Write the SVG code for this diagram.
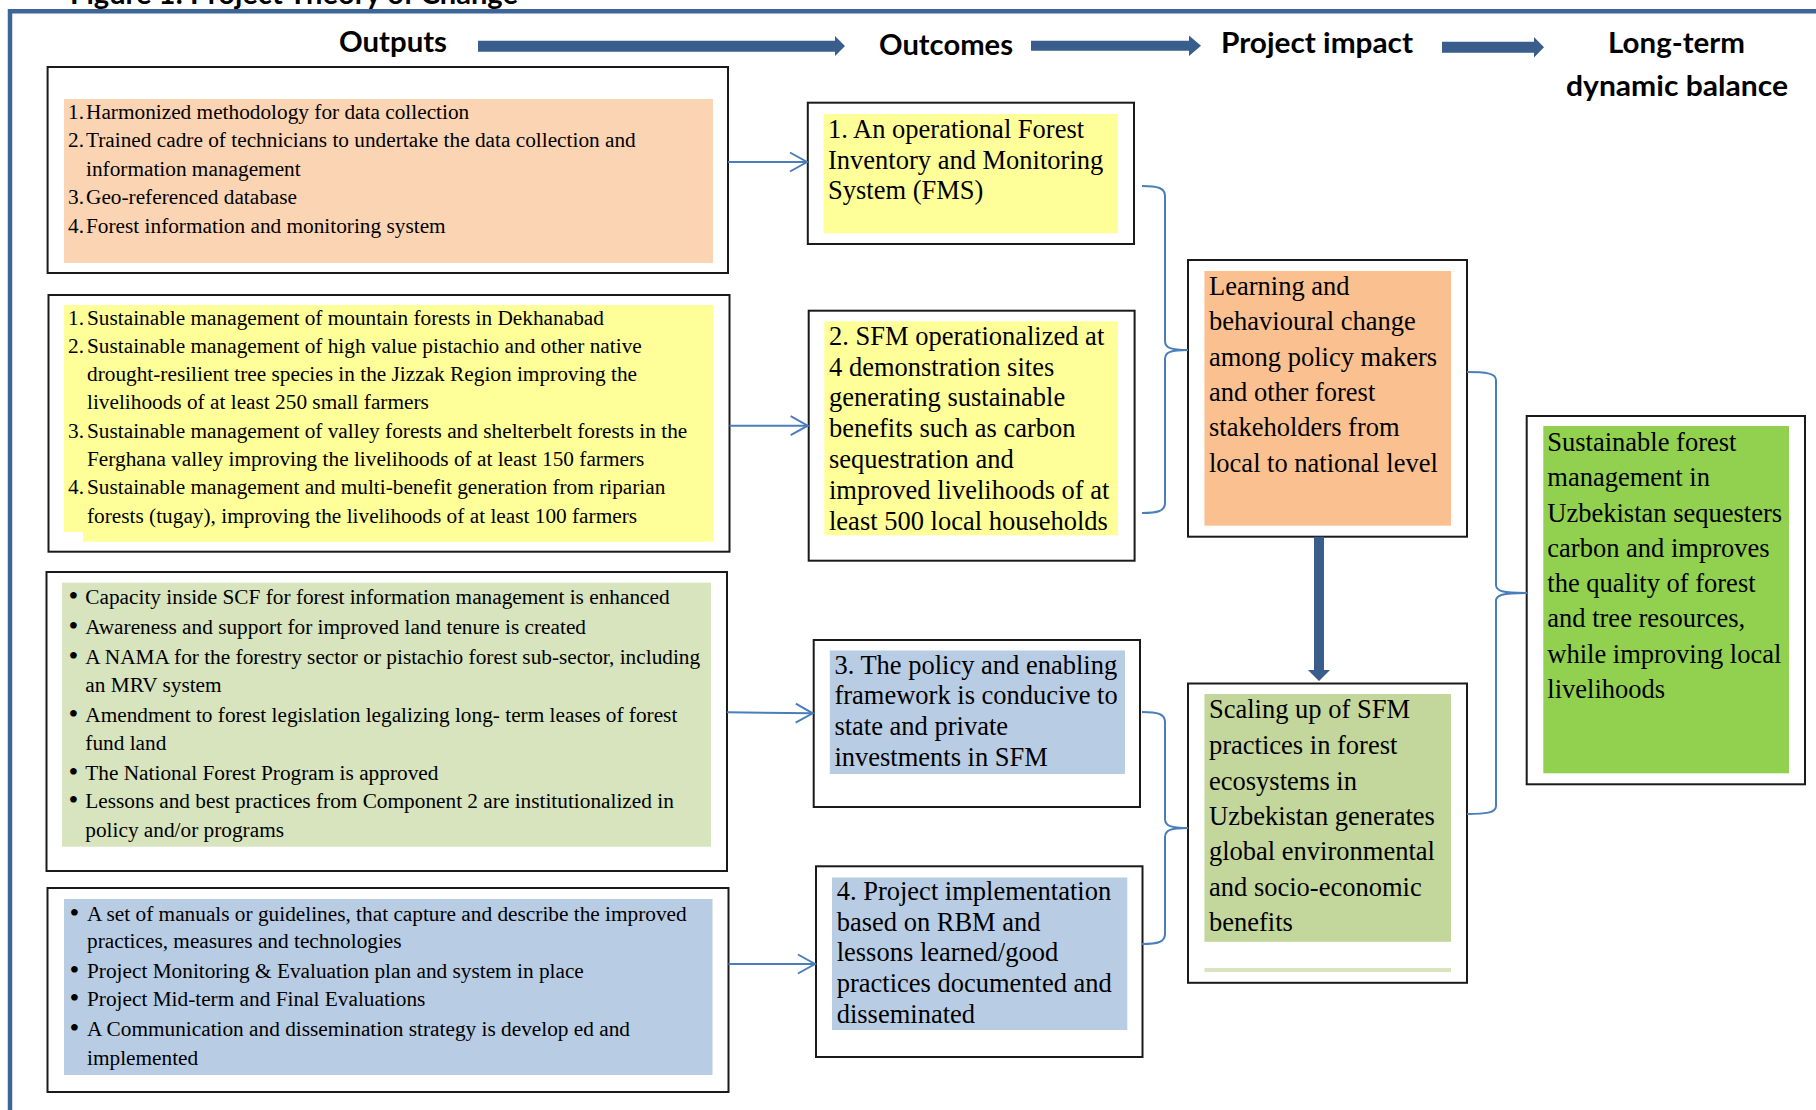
<svg xmlns="http://www.w3.org/2000/svg" width="1816" height="1110" viewBox="0 0 1816 1110">
<style>
.hdr{font-family:Lato,"Open Sans","Liberation Sans",sans-serif;font-weight:700;font-size:29px;fill:#000}
.box{fill:#fff;stroke:#1a1a1a;stroke-width:2}
.t21{font-family:"Liberation Serif","Times New Roman",serif;font-size:21.3px;fill:#000}
.bul{font-family:"Liberation Serif","Times New Roman",serif;font-size:28px;fill:#000}
.t26{font-family:"Liberation Serif","Times New Roman",serif;font-size:26.5px;fill:#000}
.conn{fill:none;stroke:#4A7EBB;stroke-width:2}
.thick{fill:#3A5E8C}
.peach{fill:#FBD4B4}
.yellow{fill:#FFFF99}
.olive{fill:#D7E4BD}
.blue{fill:#B8CCE4}
.orange{fill:#FAC090}
.green2{fill:#C3D69B}
.green{fill:#92D050}
</style>
<defs>
<marker id="open" markerUnits="userSpaceOnUse" markerWidth="22" markerHeight="24" viewBox="0 0 22 24" refX="19" refY="11" orient="auto">
<path d="M2,1.5 L19,11 L2,20.5" fill="none" stroke="#4A7EBB" stroke-width="2"/>
</marker>
</defs>

<g id="frame">
<text class="hdr" x="70" y="4" font-size="26" textLength="448" lengthAdjust="spacingAndGlyphs">Figure 1: Project Theory of Change</text>
<path d="M10,1110 L10,11.3 L1816,11.3" fill="none" stroke="#3E6597" stroke-width="4.5"/>
</g>

<g id="headers">
<text class="hdr" x="339" y="52" textLength="108" lengthAdjust="spacingAndGlyphs">Outputs</text>
<polygon class="thick" points="478,40.7 835,40.7 835,36 845,46 835,56 835,51.7 478,51.7"/>
<text class="hdr" x="879" y="55" textLength="134" lengthAdjust="spacingAndGlyphs">Outcomes</text>
<polygon class="thick" points="1031,40.7 1189,40.7 1189,35.5 1201,45.7 1189,56 1189,50.7 1031,50.7"/>
<text class="hdr" x="1221" y="53" textLength="192" lengthAdjust="spacingAndGlyphs">Project impact</text>
<polygon class="thick" points="1442,41.7 1534,41.7 1534,37 1544,47.2 1534,57.5 1534,52.7 1442,52.7"/>
<text class="hdr" x="1608" y="53" textLength="137" lengthAdjust="spacingAndGlyphs">Long-term</text>
<text class="hdr" x="1566" y="96" textLength="222" lengthAdjust="spacingAndGlyphs">dynamic balance</text>
</g>

<g id="output1">
<rect class="box" x="47.6" y="67" width="680.4" height="206"/>
<rect class="peach" x="64" y="99" width="649" height="164"/>
<text class="t21" x="68" y="119">1.</text><text class="t21" x="86" y="119">Harmonized methodology for data collection</text>
<text class="t21" x="68" y="147">2.</text><text class="t21" x="86" y="147">Trained cadre of technicians to undertake the data collection and</text>
<text class="t21" x="86" y="175.5">information management</text>
<text class="t21" x="68" y="204">3.</text><text class="t21" x="86" y="204">Geo-referenced database</text>
<text class="t21" x="68" y="232.5">4.</text><text class="t21" x="86" y="232.5">Forest information and monitoring system</text>
</g>

<g id="output2">
<rect class="box" x="48.5" y="295" width="681" height="256.7"/>
<polygon class="yellow" points="64,305 713.5,305 713.5,541.7 83,541.7 83,532 64,532"/>
<text class="t21" x="68" y="325">1.</text><text class="t21" x="87" y="325">Sustainable management of mountain forests in Dekhanabad</text>
<text class="t21" x="68" y="353">2.</text><text class="t21" x="87" y="353">Sustainable management of high value pistachio and other native</text>
<text class="t21" x="87" y="381">drought-resilient tree species in the Jizzak Region improving the</text>
<text class="t21" x="87" y="409">livelihoods of at least 250 small farmers</text>
<text class="t21" x="68" y="437.5">3.</text><text class="t21" x="87" y="437.5">Sustainable management of valley forests and shelterbelt forests in the</text>
<text class="t21" x="87" y="466">Ferghana valley improving the livelihoods of at least 150 farmers</text>
<text class="t21" x="68" y="494">4.</text><text class="t21" x="87" y="494">Sustainable management and multi-benefit generation from riparian</text>
<text class="t21" x="87" y="522.5">forests (tugay), improving the livelihoods of at least 100 farmers</text>
</g>

<g id="output3">
<rect class="box" x="46.5" y="572" width="680.5" height="299"/>
<rect class="olive" x="62" y="582.7" width="649" height="264"/>
<text class="bul" x="68.5" y="605">•</text><text class="t21" x="85.3" y="604">Capacity inside SCF for forest information management is enhanced</text>
<text class="bul" x="68.5" y="635">•</text><text class="t21" x="85.3" y="634">Awareness and support for improved land tenure is created</text>
<text class="bul" x="68.5" y="665">•</text><text class="t21" x="85.3" y="664">A NAMA for the forestry sector or pistachio forest sub-sector, including</text>
<text class="t21" x="85.3" y="691.7">an MRV system</text>
<text class="bul" x="68.5" y="722.7">•</text><text class="t21" x="85.3" y="721.7">Amendment to forest legislation legalizing long- term leases of forest</text>
<text class="t21" x="85.3" y="750">fund land</text>
<text class="bul" x="68.5" y="781">•</text><text class="t21" x="85.3" y="780">The National Forest Program is approved</text>
<text class="bul" x="68.5" y="809.3">•</text><text class="t21" x="85.3" y="808.3">Lessons and best practices from Component 2 are institutionalized in</text>
<text class="t21" x="85.3" y="837.3">policy and/or programs</text>
</g>

<g id="output4">
<rect class="box" x="47.5" y="888" width="681" height="204"/>
<rect class="blue" x="64" y="899" width="648.5" height="176"/>
<text class="bul" x="69.5" y="921.5">•</text><text class="t21" x="87" y="920.5">A set of manuals or guidelines, that capture and describe the improved</text>
<text class="t21" x="87" y="948">practices, measures and technologies</text>
<text class="bul" x="69.5" y="979">•</text><text class="t21" x="87" y="978">Project Monitoring &amp; Evaluation plan and system in place</text>
<text class="bul" x="69.5" y="1007">•</text><text class="t21" x="87" y="1006">Project Mid-term and Final Evaluations</text>
<text class="bul" x="69.5" y="1037">•</text><text class="t21" x="87" y="1036">A Communication and dissemination strategy is develop ed and</text>
<text class="t21" x="87" y="1064.7">implemented</text>
</g>

<g id="outcome1">
<rect class="box" x="807.8" y="102.7" width="326.2" height="141.3"/>
<rect class="yellow" x="823.4" y="114" width="294.6" height="119.3"/>
<text class="t26" x="828" y="138">1. An operational Forest</text>
<text class="t26" x="828" y="168.8">Inventory and Monitoring</text>
<text class="t26" x="828" y="199">System (FMS)</text>
</g>

<g id="outcome2">
<rect class="box" x="808.7" y="310.7" width="325.9" height="250"/>
<rect class="yellow" x="824.3" y="321.3" width="293.7" height="214"/>
<text class="t26" x="829" y="345">2. SFM operationalized at</text>
<text class="t26" x="829" y="376">4 demonstration sites</text>
<text class="t26" x="829" y="406">generating sustainable</text>
<text class="t26" x="829" y="437">benefits such as carbon</text>
<text class="t26" x="829" y="467.5">sequestration and</text>
<text class="t26" x="829" y="498.7">improved livelihoods of at</text>
<text class="t26" x="829" y="530">least 500 local households</text>
</g>

<g id="outcome3">
<rect class="box" x="813.7" y="640" width="326.3" height="167"/>
<rect class="blue" x="829.8" y="650.5" width="295.2" height="123.5"/>
<text class="t26" x="834.4" y="674">3. The policy and enabling</text>
<text class="t26" x="834.4" y="704">framework is conducive to</text>
<text class="t26" x="834.4" y="735">state and private</text>
<text class="t26" x="834.4" y="766">investments in SFM</text>
</g>

<g id="outcome4">
<rect class="box" x="816" y="866.3" width="326.5" height="190.7"/>
<rect class="blue" x="832" y="877.5" width="295.3" height="152.5"/>
<text class="t26" x="836.7" y="900">4. Project implementation</text>
<text class="t26" x="836.7" y="930.7">based on RBM and</text>
<text class="t26" x="836.7" y="960.5">lessons learned/good</text>
<text class="t26" x="836.7" y="991.7">practices documented and</text>
<text class="t26" x="836.7" y="1022.8">disseminated</text>
</g>

<g id="impact-learning">
<rect class="box" x="1188" y="260" width="279" height="276.7"/>
<rect class="orange" x="1204.4" y="271" width="246.6" height="254.7"/>
<text class="t26" x="1209" y="295">Learning and</text>
<text class="t26" x="1209" y="330">behavioural change</text>
<text class="t26" x="1209" y="365.7">among policy makers</text>
<text class="t26" x="1209" y="400.5">and other forest</text>
<text class="t26" x="1209" y="435.5">stakeholders from</text>
<text class="t26" x="1209" y="472">local to national level</text>
</g>

<g id="impact-scaling">
<rect class="box" x="1188" y="683.5" width="279" height="299.3"/>
<rect class="green2" x="1204.4" y="694" width="246.6" height="247.8"/>
<rect class="olive" x="1204.4" y="968" width="246.6" height="4"/>
<text class="t26" x="1209" y="718">Scaling up of SFM</text>
<text class="t26" x="1209" y="753.5">practices in forest</text>
<text class="t26" x="1209" y="789.5">ecosystems in</text>
<text class="t26" x="1209" y="824.5">Uzbekistan generates</text>
<text class="t26" x="1209" y="859.5">global environmental</text>
<text class="t26" x="1209" y="895.5">and socio-economic</text>
<text class="t26" x="1209" y="930.5">benefits</text>
</g>

<g id="long-term">
<rect class="box" x="1526.7" y="416" width="278.3" height="368.3"/>
<rect class="green" x="1543.3" y="426" width="245.7" height="347.3"/>
<text class="t26" x="1547.3" y="450.7">Sustainable forest</text>
<text class="t26" x="1547.3" y="486">management in</text>
<text class="t26" x="1547.3" y="521.7">Uzbekistan sequesters</text>
<text class="t26" x="1547.3" y="556.7">carbon and improves</text>
<text class="t26" x="1547.3" y="591.7">the quality of forest</text>
<text class="t26" x="1547.3" y="627.3">and tree resources,</text>
<text class="t26" x="1547.3" y="662.7">while improving local</text>
<text class="t26" x="1547.3" y="698.3">livelihoods</text>
</g>

<g id="connectors">
<path class="conn" d="M728,162 L807,162" marker-end="url(#open)"/>
<path class="conn" d="M729.5,425.7 L807.7,425.7" marker-end="url(#open)"/>
<path class="conn" d="M727,712.3 L812.7,713.3" marker-end="url(#open)"/>
<path class="conn" d="M728.5,964 L815,964" marker-end="url(#open)"/>
<path class="conn" d="M1142,186 C1158,186 1165,188 1165,196 L1165,341 C1165,348 1171,350 1188,350 C1171,350 1165,352 1165,359 L1165,503 C1165,511 1158,513 1142,513"/>
<path class="conn" d="M1142,712 C1158,712 1165,714 1165,722 L1165,819 C1165,826 1171,828 1188,828 C1171,828 1165,830 1165,837 L1165,934 C1165,942 1158,944 1142,944"/>
<path class="conn" d="M1467,372 C1485,372 1496,373 1496,380 L1496,585 C1496,591 1502,593 1527,593 C1502,593 1496,595 1496,601 L1496,806 C1496,813 1485,814 1467,814"/>
<polygon class="thick" points="1314,536.7 1324,536.7 1324,670 1330,670 1319,681 1308,670 1314,670"/>
</g>
</svg>
